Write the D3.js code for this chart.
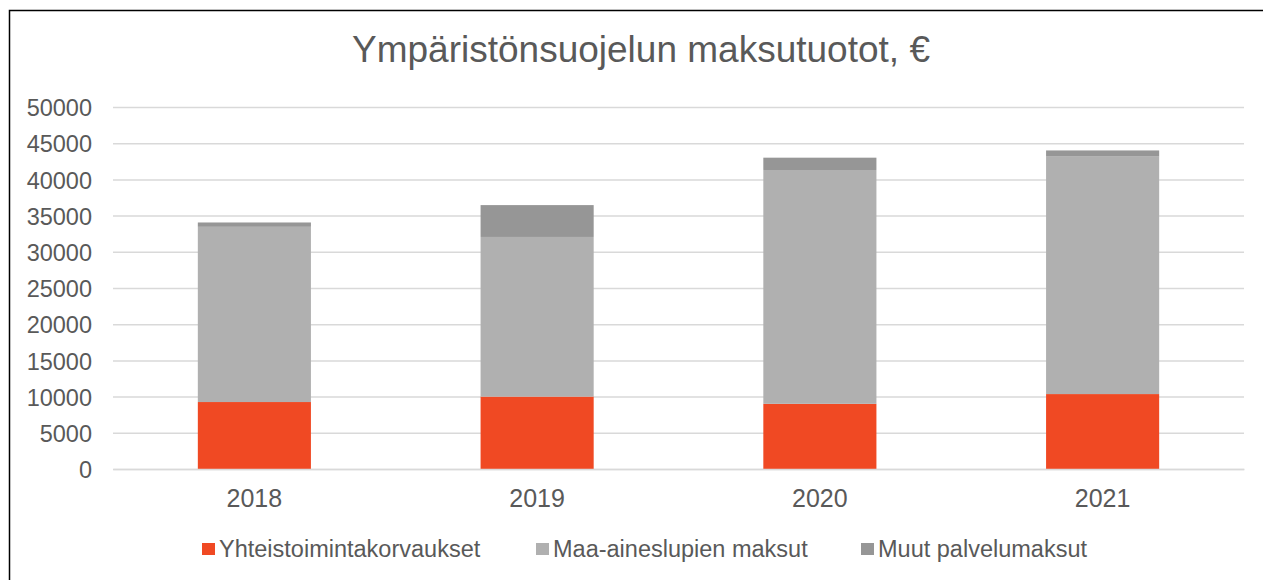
<!DOCTYPE html>
<html><head><meta charset="utf-8">
<script src="https://cdn.jsdelivr.net/npm/d3@7"></script>
<style>body{margin:0;background:#fff}svg{display:block}</style>
</head><body><svg id="c" width="1263" height="580"></svg>
<script>
const categories = ["2018","2019","2020","2021"];
const seriesNames = ["Yhteistoimintakorvaukset","Maa-aineslupien maksut","Muut palvelumaksut"];
const yhteistoiminta = [9250, 10000, 9000, 10350];
const maaAines = [24200, 22050, 32300, 32800];
const muut = [600, 4400, 1700, 850];
const yTicks = [0,5000,10000,15000,20000,25000,30000,35000,40000,45000,50000];
const colors = ["#F04923","#B0B0B0","#969696"];

(function(){
const svg = d3.select("#c");
const font = "'Liberation Sans', Arial, sans-serif";
const txt = "#595959";

svg.append("rect").attr("x",9.5).attr("y",10.5).attr("width",1300).attr("height",600)
  .attr("fill","#fff").attr("stroke","#000").attr("stroke-width",1.5);

const pL=113, pR=1244, pT=107, pB=469;
const x = d3.scaleBand().domain(categories).range([pL,pR]).paddingInner(0.6).paddingOuter(0.3);
const y = d3.scaleLinear().domain([0,50000]).range([pB,pT]);

svg.append("text").attr("x",641).attr("y",62).attr("text-anchor","middle")
  .attr("font-family",font).attr("font-size",37).attr("fill",txt).text("Ympäristönsuojelun maksutuotot, €");

const ya = svg.append("g").attr("transform",`translate(${pL},0)`)
  .call(d3.axisLeft(y).tickValues(yTicks).tickSize(-(pR-pL)).tickPadding(21).tickFormat(d3.format("d")));
ya.select(".domain").remove();
ya.selectAll("line").attr("stroke","#D9D9D9").attr("stroke-width",1.5);
ya.selectAll("text").attr("font-family",font).attr("font-size",23.5).attr("fill",txt).attr("dy","0.37em");

const data = categories.map((c,i)=>({cat:c, s0:yhteistoiminta[i], s1:maaAines[i], s2:muut[i]}));
const stack = d3.stack().keys(["s0","s1","s2"])(data);
stack.forEach((layer,li)=>{
  svg.append("g").selectAll("rect").data(layer).join("rect")
    .attr("x",d=>x(d.data.cat)).attr("width",x.bandwidth())
    .attr("y",d=>y(d[1])).attr("height",d=>y(d[0])-y(d[1]))
    .attr("fill",colors[li]);
});

const xa = svg.append("g").attr("transform",`translate(0,${pB})`)
  .call(d3.axisBottom(x).tickSize(0).tickPadding(0));
xa.select(".domain").attr("stroke","#D9D9D9").attr("stroke-width",1.5);
xa.selectAll("text").attr("font-family",font).attr("font-size",25).attr("fill",txt)
  .attr("dy",null).attr("y",38);

const legX = [202, 536, 861];
const lg = svg.append("g");
seriesNames.forEach((n,i)=>{
  lg.append("rect").attr("x",legX[i]).attr("y",543).attr("width",13).attr("height",12).attr("fill",colors[i]);
  lg.append("text").attr("x",legX[i]+17).attr("y",557).attr("font-family",font).attr("font-size",23.5)
    .attr("fill",txt).text(n);
});
})();
</script></body></html>
